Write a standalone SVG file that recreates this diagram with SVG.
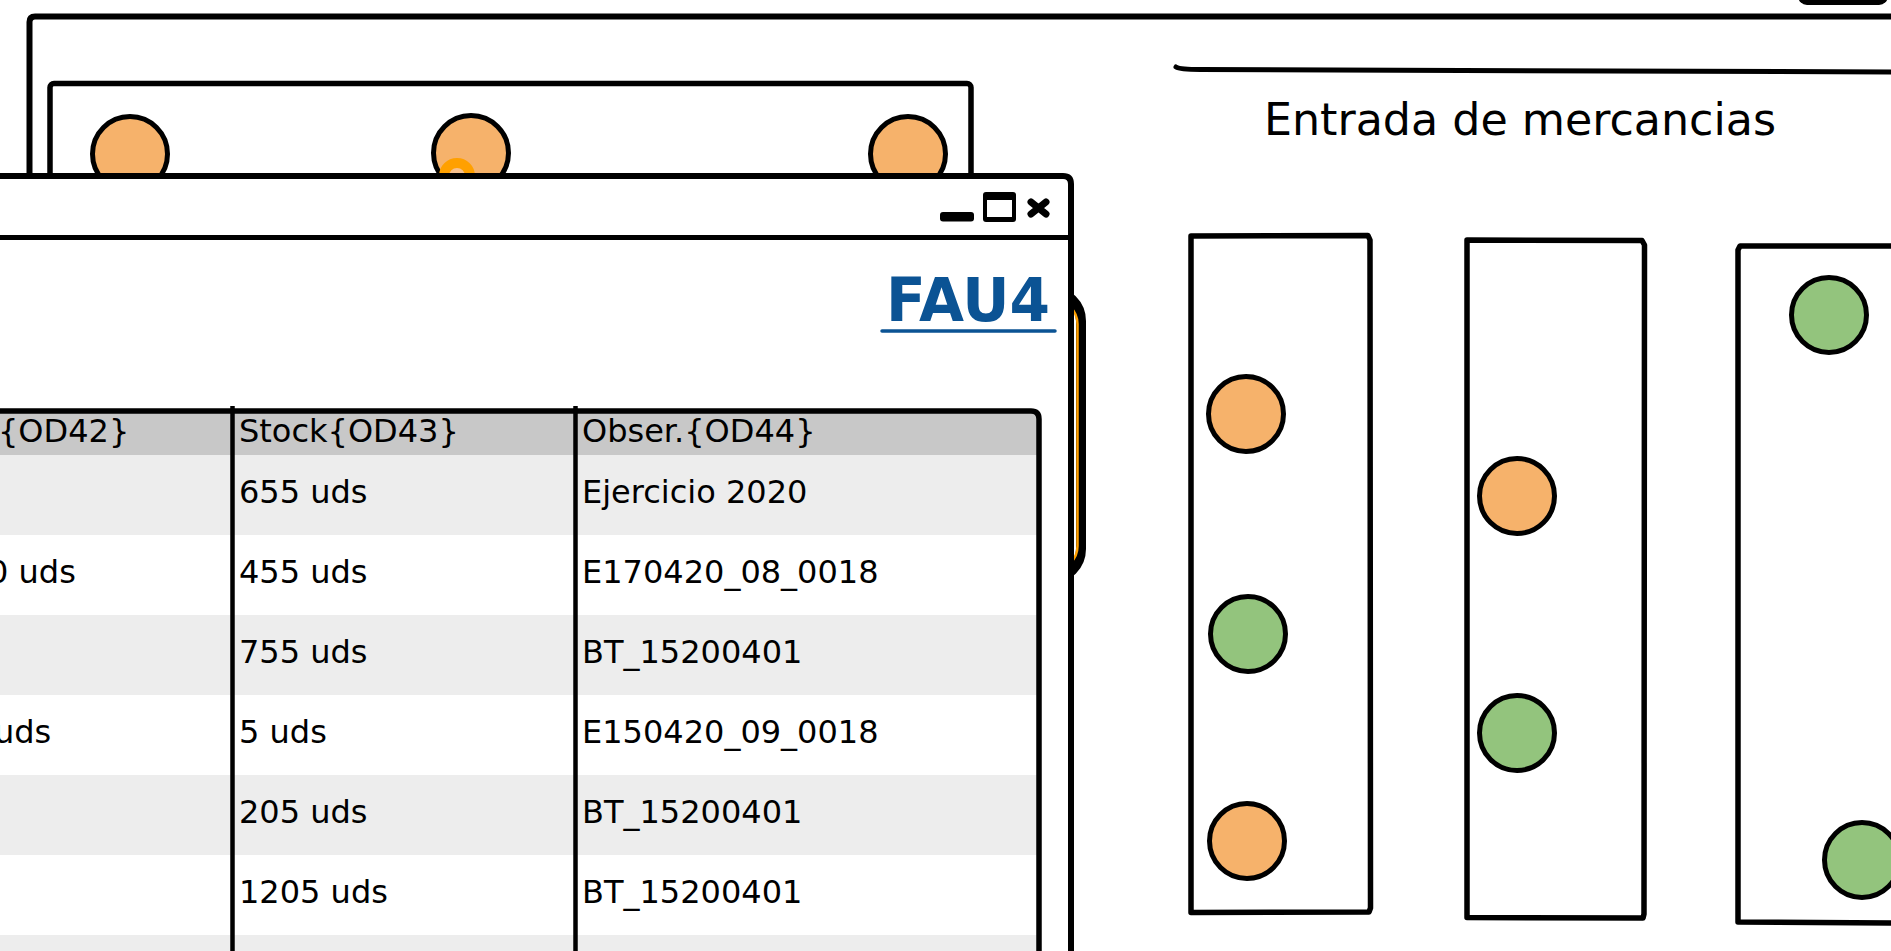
<svg xmlns="http://www.w3.org/2000/svg" width="1891" height="951" viewBox="0 0 1891 951">
<style>
.ln{fill:none;stroke:#000;stroke-linejoin:round;stroke-linecap:round}
.box{fill:#fff;stroke:#000;stroke-width:5.5;stroke-linejoin:round}
.or{fill:#F6B26B;stroke:#000;stroke-width:5}
.gr{fill:#93C47D;stroke:#000;stroke-width:5}
.t{font-family:"DejaVu Sans",sans-serif;font-size:32px;fill:#000}
.hd{fill:#C8C8C8}
.rw{fill:#EDEDED}
</style>
<rect width="1891" height="951" fill="#fff"/>

<g id="outer-window">
  <path class="ln" stroke-width="6" d="M29.5,180 L29.5,22 Q29.5,16.5 35,16.5 L1900,16.5"/>
</g>
<g id="top-right-button">
  <rect x="1798" y="-20" width="90" height="25" rx="9" fill="#000"/>
</g>

<g id="back-window">
  <rect class="box" x="50" y="83.5" width="921" height="400" rx="4"/>
  <circle class="or" cx="130" cy="154" r="37.5"/>
  <circle class="or" cx="471" cy="153" r="37.5"/>
  <circle class="or" cx="908" cy="154" r="37.5"/>
  <circle cx="457" cy="176" r="13" fill="#F8C18E" stroke="#FFA000" stroke-width="10"/>
</g>

<g id="hidden-panel">
  <rect x="880" y="291" width="201" height="288" rx="30" fill="#fff" stroke="#000" stroke-width="10"/>
  <rect x="880" y="300" width="197.5" height="270" rx="24" fill="none" stroke="#FFA000" stroke-width="2.5"/>
</g>

<g id="front-window">
  <path d="M-20,176 L1063,176 Q1071,176 1071,184 L1071,960 L-20,960 Z" fill="#fff" stroke="#000" stroke-width="6" stroke-linejoin="round"/>
  <line x1="-20" y1="237.5" x2="1071" y2="237.5" stroke="#000" stroke-width="5"/>
  <g id="window-controls">
    <rect x="940" y="212" width="34" height="9.5" rx="3" fill="#000"/>
    <rect x="983" y="192" width="33" height="30" rx="3" fill="#000"/>
    <rect x="987" y="200" width="25" height="17" fill="#fff"/>
    <path class="ln" stroke-width="7" d="M1031,202 L1046,214 M1046,202 L1031,214"/>
  </g>
  <g id="fau4-link">
    <text x="886" y="321" textLength="164" lengthAdjust="spacingAndGlyphs" style="font-family:'DejaVu Sans',sans-serif;font-weight:bold;font-size:60px;fill:#0B5394">FAU4</text>
    <line x1="882" y1="331" x2="1055" y2="331" stroke="#0B5394" stroke-width="3.5" stroke-linecap="round"/>
  </g>
  <g id="table">
    <rect class="hd" x="-10" y="411" width="1049" height="44"/>
    <rect class="rw" x="-10" y="455" width="1049" height="80"/>
    <rect class="rw" x="-10" y="615" width="1049" height="80"/>
    <rect class="rw" x="-10" y="775" width="1049" height="80"/>
    <rect class="rw" x="-10" y="935" width="1049" height="80"/>
    <path class="ln" stroke-width="5.5" d="M-10,411 L1031,411 Q1039,411 1039,419 L1039,960"/>
    <line x1="232.5" y1="406" x2="232.5" y2="960" stroke="#000" stroke-width="4.5"/>
    <line x1="575.5" y1="406" x2="575.5" y2="960" stroke="#000" stroke-width="4.5"/>
    <text class="t" x="-2" y="442">{OD42}</text>
    <text class="t" x="239" y="442">Stock{OD43}</text>
    <text class="t" x="582" y="442">Obser.{OD44}</text>
    <text class="t" x="239" y="503">655 uds</text>
    <text class="t" x="582" y="503">Ejercicio 2020</text>
    <text class="t" x="-12" y="583">0 uds</text>
    <text class="t" x="239" y="583">455 uds</text>
    <text class="t" x="582" y="583">E170420_08_0018</text>
    <text class="t" x="239" y="663">755 uds</text>
    <text class="t" x="582" y="663">BT_15200401</text>
    <text class="t" x="-6" y="743">uds</text>
    <text class="t" x="239" y="743">5 uds</text>
    <text class="t" x="582" y="743">E150420_09_0018</text>
    <text class="t" x="239" y="823">205 uds</text>
    <text class="t" x="582" y="823">BT_15200401</text>
    <text class="t" x="239" y="903">1205 uds</text>
    <text class="t" x="582" y="903">BT_15200401</text>
  </g>
</g>

<g id="panel-title">
  <path d="M1176,67 Q1180,69.5 1200,69.5 L1900,72" fill="none" stroke="#000" stroke-width="5" stroke-linecap="round"/>
  <text x="1264" y="135" textLength="512" lengthAdjust="spacingAndGlyphs" style="font-family:'DejaVu Sans',sans-serif;font-size:44px;fill:#000">Entrada de mercancias</text>
</g>

<g id="column-1">
  <path class="box" d="M1191,236 L1368,235.5 L1370,240 L1370.5,908 L1369,912 L1191,912.5 Z"/>
  <circle class="or" cx="1246" cy="414" r="37.5"/>
  <circle class="gr" cx="1248" cy="634" r="37.5"/>
  <circle class="or" cx="1247" cy="841" r="37.5"/>
</g>
<g id="column-2">
  <path class="box" d="M1467,240 L1642,240.5 L1644.5,245 L1644,914 L1643,918 L1467,917.5 Z"/>
  <circle class="or" cx="1517" cy="496" r="37.5"/>
  <circle class="gr" cx="1517" cy="733" r="37.5"/>
</g>
<g id="column-3">
  <path class="box" d="M1900,246 L1740,246 L1738,250 L1738,922 L1900,923"/>
  <circle class="gr" cx="1829" cy="315" r="37.5"/>
  <circle class="gr" cx="1862" cy="860" r="37.5"/>
</g>
<g id="connectors"/>
</svg>
